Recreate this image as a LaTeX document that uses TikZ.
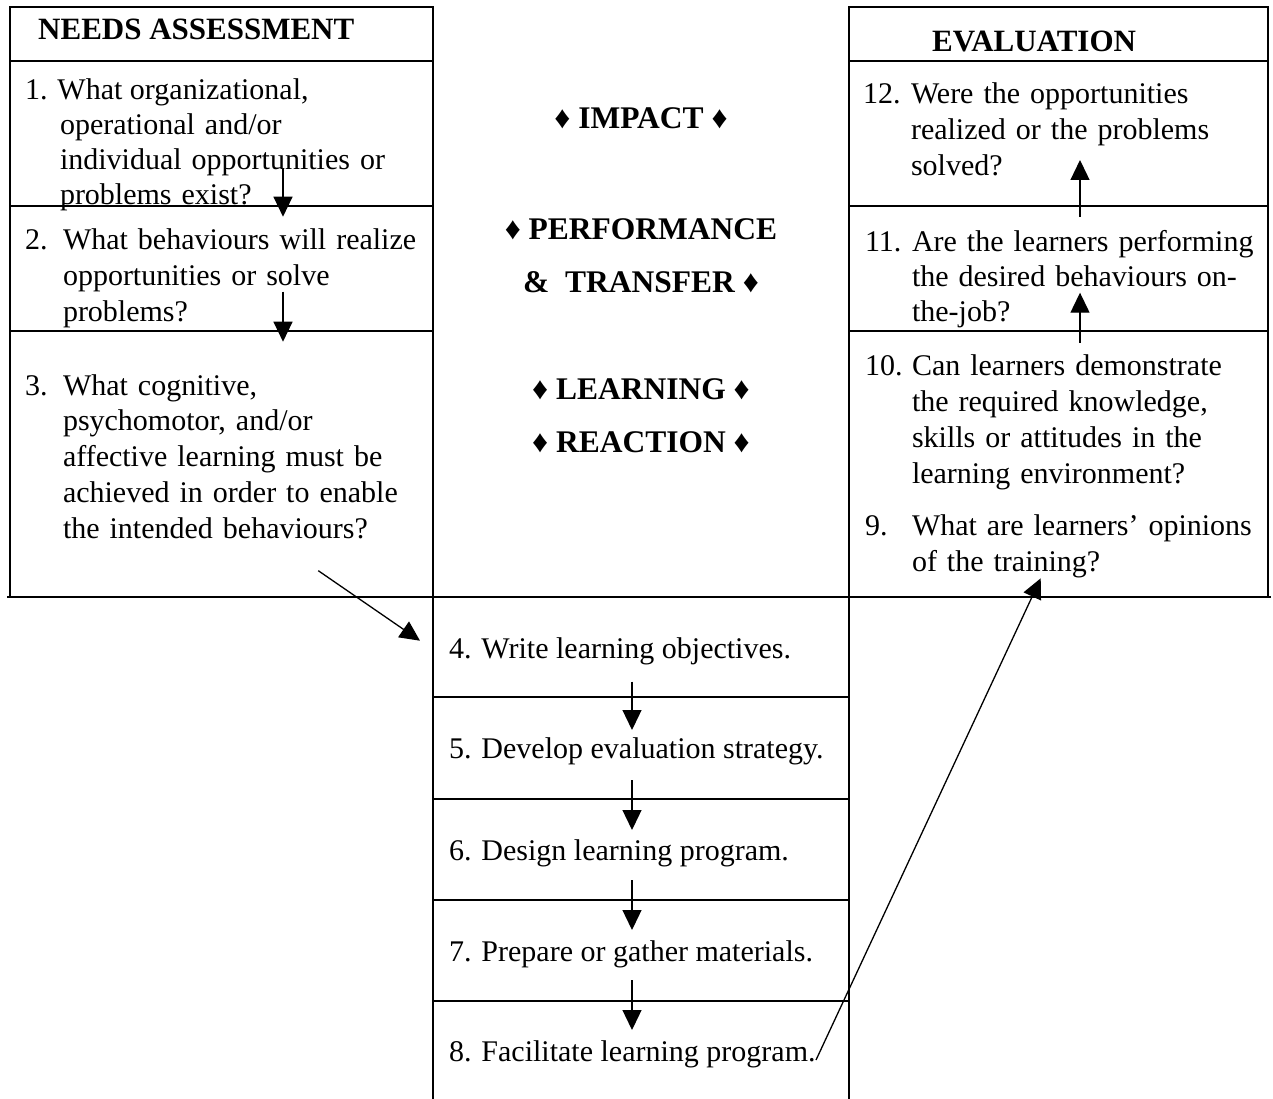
\documentclass[tikz,border=0pt]{standalone}
\usepackage{fontspec}
\setmainfont{Liberation Serif}
\usetikzlibrary{arrows.meta}
\tikzset{
  frame/.style={line width=2pt, line cap=rect},
  conn/.style={line width=1.3pt, -{Triangle[length=20pt,width=19pt]}},
  body/.style={anchor=base west, inner sep=0pt, outer sep=0pt, font=\fontsize{30}{35.8}\selectfont},
  bodyml/.style={body, text width=400pt, align=left},
  head/.style={anchor=base west, inner sep=0pt, font=\bfseries\fontsize{31}{36}\selectfont},
  level/.style={anchor=base, inner sep=0pt, font=\bfseries\fontsize{31.5}{36}\selectfont},
}
\begin{document}
\begin{tikzpicture}[x=1pt,y=-1pt]
\useasboundingbox (0,0) rectangle (1273,1099);
% ---- frames ----
\draw[frame] (10,7) rectangle (433,597);
\draw[frame] (10,61) -- (433,61) (10,206) -- (433,206) (10,331) -- (433,331);
\draw[frame] (849,7) rectangle (1268,597);
\draw[frame] (849,61) -- (1268,61) (849,206) -- (1268,206) (849,331) -- (1268,331);
\draw[frame] (433,7) -- (433,1099) (849,7) -- (849,1099);
\draw[frame] (8,597) -- (1270,597);
\draw[frame] (433,697) -- (849,697) (433,799) -- (849,799) (433,900) -- (849,900) (433,1001) -- (849,1001);
% ---- headings ----
\node[head] (na) at (38,40) {NEEDS ASSESSMENT};
\node[head] (ev) at (932,51.7) {EVALUATION};
% ---- levels ----
\node[level] (imp) at (641,128.3) {♦ IMPACT ♦};
\node[level] (perf) at (641,239.3) {♦ PERFORMANCE};
\node[level] (trans) at (641,292.7) {\&~ TRANSFER ♦};
\node[level] (lrn) at (641,399.3) {♦ LEARNING ♦};
\node[level] (rea) at (641,452.7) {♦ REACTION ♦};
% ---- needs assessment items ----
\node[body] (q1a) at (25,100) {1. What organizational,};
\node[bodyml, font=\fontsize{30}{35}\selectfont] (q1b) at (60,135) {operational and/or\\individual opportunities or\\problems exist?};
\node[body] (q2n) at (25,250) {2.};
\node[bodyml] (q2) at (63,250) {What behaviours will realize\\opportunities or solve\\problems?};
\node[body] (q3n) at (25,395) {3.};
\node[bodyml] (q3) at (63,395) {What cognitive,\\psychomotor, and/or\\affective learning must be\\achieved in order to enable\\the intended behaviours?};
% ---- design steps ----
\node[body] (s4) at (449,658) {4. Write learning objectives.};
\node[body] (s5) at (449,758.3) {5. Develop evaluation strategy.};
\node[body] (s6) at (449,860) {6. Design learning program.};
\node[body] (s7) at (449,961.7) {7. Prepare or gather materials.};
\node[body] (s8) at (449,1061.7) {8. Facilitate learning program.};
% ---- evaluation items ----
\node[body] (q12n) at (863,103.3) {12.};
\node[bodyml, font=\fontsize{30}{36}\selectfont] (q12) at (911,103.3) {Were the opportunities\\realized or the problems\\solved?};
\node[body] (q11n) at (865,251.7) {11.};
\node[bodyml, font=\fontsize{30}{35}\selectfont] (q11) at (912,251.7) {Are the learners performing\\the desired behaviours on-\\the-job?};
\node[body] (q10n) at (865,375) {10.};
\node[bodyml, font=\fontsize{30}{36}\selectfont] (q10) at (912,375) {Can learners demonstrate\\the required knowledge,\\skills or attitudes in the\\learning environment?};
\node[body] (q9n) at (865,535) {9.};
\node[bodyml, font=\fontsize{30}{36.7}\selectfont] (q9) at (912,535) {What are learners’ opinions\\of the training?};
% ---- arrow end points ----
\coordinate (a1s) at (283,168);    \coordinate (a1e) at (283,216.7);
\coordinate (a2s) at (283,291.7);  \coordinate (a2e) at (283,341.7);
\coordinate (a3s) at (318.3,570.7);\coordinate (a3e) at (420,640.7);
\coordinate (a4s) at (632,681.7);  \coordinate (a4e) at (632,730);
\coordinate (a5s) at (632,780);    \coordinate (a5e) at (632,830);
\coordinate (a6s) at (632,880);    \coordinate (a6e) at (632,930);
\coordinate (a7s) at (632,980);    \coordinate (a7e) at (632,1030);
\coordinate (a8s) at (816,1060);   \coordinate (a8e) at (1040.7,578.3);
\coordinate (a9s) at (1080,342.7); \coordinate (a9e) at (1080,292.7);
\coordinate (a10s) at (1080,217);  \coordinate (a10e) at (1080,160);
% ---- connectors ----
\draw[conn] (a1s) -- (a1e);
\draw[conn] (a2s) -- (a2e);
\draw[conn] (a3s) -- (a3e);
\draw[conn] (a4s) -- (a4e);
\draw[conn] (a5s) -- (a5e);
\draw[conn] (a6s) -- (a6e);
\draw[conn] (a7s) -- (a7e);
\draw[conn] (a8s) -- (a8e);
\draw[conn] (a9s) -- (a9e);
\draw[conn] (a10s) -- (a10e);
\end{tikzpicture}
\end{document}
